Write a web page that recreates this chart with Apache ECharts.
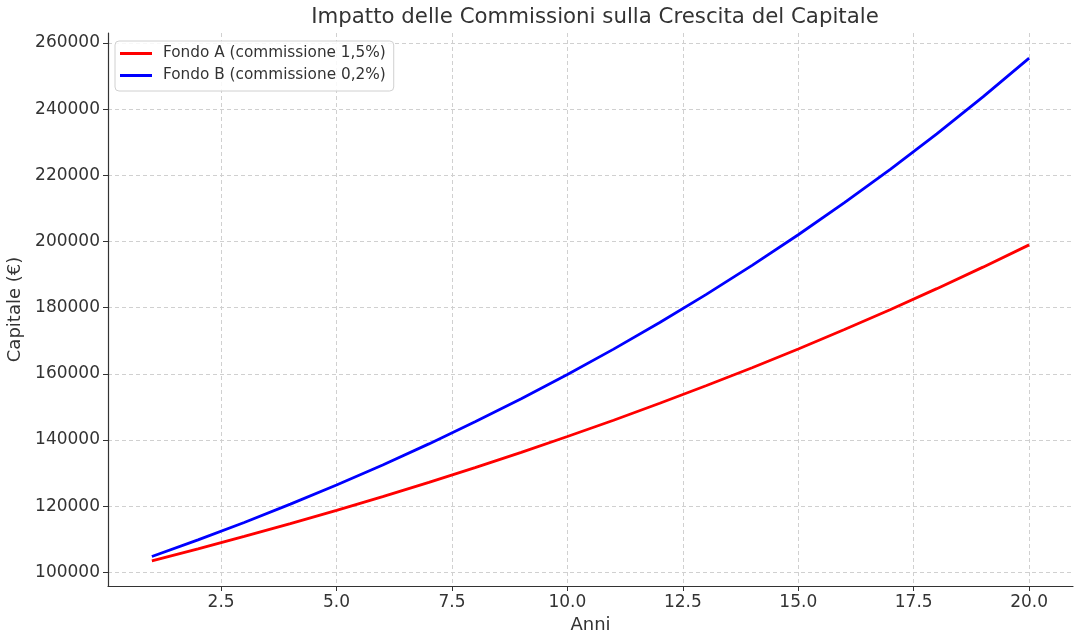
<!DOCTYPE html>
<html>
<head>
<meta charset="utf-8">
<script src="https://cdn.jsdelivr.net/npm/echarts@6/dist/echarts.min.js"></script>
<style>
  html, body { margin: 0; padding: 0; background: #fff; }
  #chart { width: 1080px; height: 637px; }
</style>
</head>
<body>
<div id="chart"></div>
<script>
const anni = [1, 2, 3, 4, 5, 6, 7, 8, 9, 10, 11, 12, 13, 14, 15, 16, 17, 18, 19, 20];
const fondoA = [103500, 107120, 110870, 114750, 118770, 122930, 127230, 131680, 136290, 141060,
  146000, 151110, 156400, 161870, 167530, 173400, 179470, 185750, 192250, 198980];
const fondoB = [104800, 109830, 115100, 120630, 126420, 132490, 138840, 145510, 152490, 159810,
  167480, 175520, 183950, 192780, 202030, 211730, 221890, 232540, 243700, 255400];
const xTicks = [2.5, 5, 7.5, 10, 12.5, 15, 17.5, 20];
const yTicks = [100000, 120000, 140000, 160000, 180000, 200000, 220000, 240000, 260000];

const font = 'DejaVu Sans';
const chart = echarts.init(document.getElementById('chart'));

const pairs = (ys) => anni.map((x, i) => [x, ys[i]]);
const lineIcon = 'path://M0,0 L32,0 L32,3 L0,3 Z';

chart.setOption({
  animation: false,
  textStyle: { fontFamily: font },
  title: {
    text: 'Impatto delle Commissioni sulla Crescita del Capitale',
    left: 590, top: 2, textAlign: 'center',
    textStyle: { fontFamily: font, fontSize: 21.3, fontWeight: 'normal', color: '#333' }
  },
  legend: {
    left: 115, top: 41, orient: 'vertical',
    itemWidth: 32, itemHeight: 3, itemGap: 7,
    padding: [5, 8, 8, 5],
    borderColor: '#d0d0d0', borderWidth: 1, borderRadius: 4,
    backgroundColor: 'rgba(255,255,255,0.85)',
    textStyle: { fontFamily: font, fontSize: 15.3, color: '#333', padding: [0, 0, 0, 6] },
    data: [
      { name: 'Fondo A (commissione 1,5%)', icon: lineIcon },
      { name: 'Fondo B (commissione 0,2%)', icon: lineIcon }
    ]
  },
  grid: { left: 108, right: 7, top: 33, bottom: 51, outerBoundsMode: 'none' },
  xAxis: {
    type: 'value', min: 0.05, max: 20.95,
    name: 'Anni', nameLocation: 'middle', nameGap: 29,
    nameTextStyle: { fontFamily: font, fontSize: 18, color: '#333' },
    axisLine: { lineStyle: { color: '#333', width: 1.2 } },
    axisTick: { customValues: xTicks, length: 5, lineStyle: { color: '#333' } },
    axisLabel: {
      customValues: xTicks, fontSize: 17, color: '#333', margin: 8,
      formatter: v => v.toFixed(1)
    },
    splitLine: { show: true, lineStyle: { color: '#d0d0d0', type: [4, 3], width: 1 } }
  },
  yAxis: {
    type: 'value', min: 95900, max: 263000,
    name: 'Capitale (€)', nameLocation: 'middle', nameGap: 83,
    nameTextStyle: { fontFamily: font, fontSize: 18, color: '#333' },
    axisLine: { show: true, lineStyle: { color: '#333', width: 1.2 } },
    axisTick: { show: true, customValues: yTicks, length: 5, lineStyle: { color: '#333' } },
    axisLabel: { customValues: yTicks, fontSize: 17, color: '#333', margin: 8, formatter: v => String(v) },
    splitLine: { show: true, lineStyle: { color: '#d0d0d0', type: [4, 3], width: 1 } }
  },
  series: [
    {
      name: 'Fondo A (commissione 1,5%)', type: 'line', data: pairs(fondoA),
      symbol: 'none', color: '#ff0000', lineStyle: { width: 2.8, color: '#ff0000' }
    },
    {
      name: 'Fondo B (commissione 0,2%)', type: 'line', data: pairs(fondoB),
      symbol: 'none', color: '#0000ff', lineStyle: { width: 2.8, color: '#0000ff' }
    }
  ]
});
</script>
</body>
</html>
